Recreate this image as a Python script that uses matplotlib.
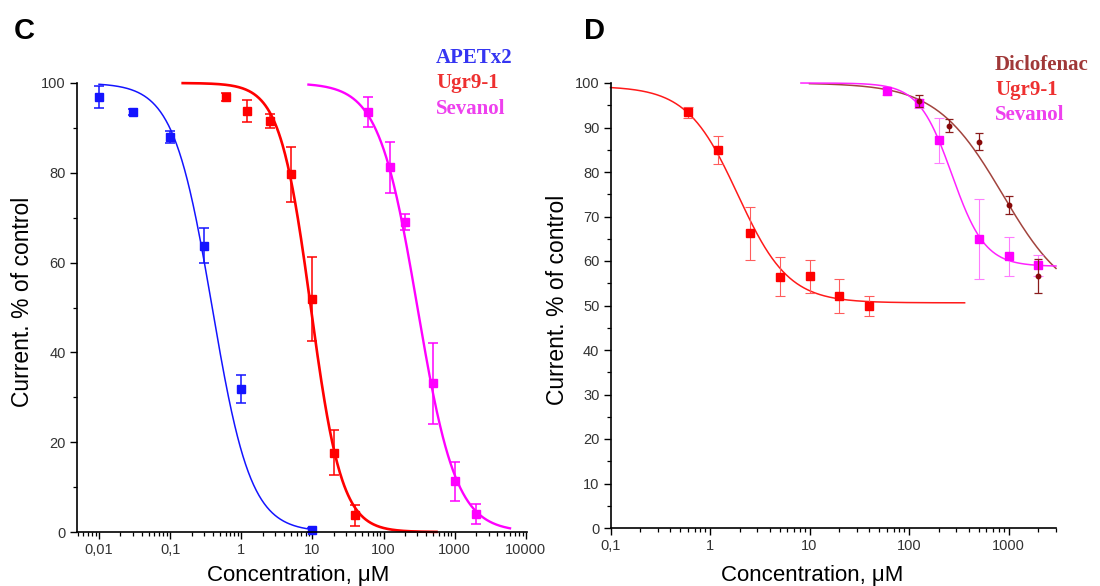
import numpy as np
import matplotlib
matplotlib.use("Agg")
import matplotlib.pyplot as plt
from matplotlib.ticker import FixedLocator, FuncFormatter, MultipleLocator, LogLocator, NullFormatter

plt.rcParams['font.family'] = ['Liberation Sans', 'DejaVu Sans']

# ---------------- Panel C data ----------------
c_apetx2_x = [0.01, 0.03, 0.1, 0.3, 1, 10]
c_apetx2_y = [96.9, 93.5, 88.0, 63.8, 31.8, 0.45]
c_apetx2_err = [2.5, 0.7, 1.3, 4.0, 3.1, 0.5]

c_ugr_x = [0.6, 1.2, 2.5, 5, 10, 20, 40]
c_ugr_y = [96.9, 93.8, 91.6, 79.7, 51.9, 17.7, 3.7]
c_ugr_err = [0.8, 2.5, 1.6, 6.1, 9.3, 5.0, 2.3]

c_sev_x = [60, 125, 200, 500, 1000, 2000]
c_sev_y = [93.5, 81.2, 69.0, 33.1, 11.3, 4.0]
c_sev_err = [3.3, 5.6, 1.8, 9.0, 4.4, 2.2]

# Hill fit parameters: (IC50, n, top, bottom, x_start, x_end)
c_apetx2_fit = (0.39, 1.6, 100.0, 0.0, 0.01, 10)
c_ugr_fit = (9.5, 2.0, 100.0, 0.0, 0.15, 555)
c_sev_fit = (300.0, 1.6, 100.0, 0.0, 8.8, 6000)

# ---------------- Panel D data ----------------
d_ugr_x = [0.6, 1.2, 2.5, 5, 10, 20, 40]
d_ugr_y = [93.4, 85.0, 66.2, 56.5, 56.6, 52.1, 49.9]
d_ugr_err = [1.2, 3.1, 6.0, 4.3, 3.7, 3.8, 2.2]

d_sev_x = [60, 125, 200, 500, 1000, 2000]
d_sev_y = [98.2, 95.4, 87.1, 65.0, 61.1, 59.0]
d_sev_err = [0.9, 1.0, 5.0, 9.0, 4.4, 2.3]

d_dic_x = [125, 250, 500, 1000, 2000]
d_dic_y = [96.0, 90.4, 86.8, 72.6, 56.6]
d_dic_err = [1.4, 1.5, 1.9, 2.0, 3.8]

d_ugr_fit = (1.9, 1.7, 99.3, 50.6, 0.1, 362)
d_sev_fit = (270.0, 2.6, 100.0, 58.8, 8.2, 3000)
d_dic_fit = (870.0, 1.3, 100.0, 50.0, 10, 3000)

c_xticks = [0.01, 0.1, 1, 10, 100, 1000, 10000]
d_xticks = [0.1, 1, 10, 100, 1000]


def hill_curve(fit):
    ic50, n, top, bottom, x0, x1 = fit
    xs = np.logspace(np.log10(x0), np.log10(x1), 400)
    return xs, bottom + (top - bottom) / (1 + (xs / ic50) ** n)


def comma_fmt(v, pos):
    s = ('%g' % v)
    return s.replace('.', ',')


fig = plt.figure(figsize=(11, 5.86), dpi=100)
W, H = 1100, 586


def px_axes(l, r, t, b):
    return fig.add_axes([l / W, 1 - b / H, (r - l) / W, (b - t) / H])


axC = px_axes(77, 527, 83, 532)
axD = px_axes(610.5, 1056, 83, 528)

tick_color = '#333333'
for ax in (axC, axD):
    ax.set_xscale('log')
    for s in ('top', 'right'):
        ax.spines[s].set_visible(False)
    for s in ('left', 'bottom'):
        ax.spines[s].set_linewidth(1.2)
    ax.tick_params(which='major', direction='out', length=5, width=1.0,
                   labelsize=10.5, labelcolor=tick_color, pad=3)
    ax.tick_params(which='minor', direction='out', length=3, width=0.9)
    ax.xaxis.set_minor_locator(LogLocator(base=10, subs=np.arange(2, 10), numticks=20))
    ax.xaxis.set_minor_formatter(NullFormatter())
    ax.xaxis.set_major_formatter(FuncFormatter(comma_fmt))

# ---- Panel C ----
axC.set_xlim(0.0049, 10400)
axC.set_ylim(0, 100)
axC.xaxis.set_major_locator(FixedLocator(c_xticks))
axC.yaxis.set_major_locator(MultipleLocator(20))
axC.yaxis.set_minor_locator(MultipleLocator(10))

blue = '#1414ff'
red = '#ff0000'
mag = '#ff00ff'

xs, ys = hill_curve(c_apetx2_fit)
axC.plot(xs, ys, color=blue, lw=1.1, clip_on=False)
xs, ys = hill_curve(c_ugr_fit)
axC.plot(xs, ys, color=red, lw=1.9, clip_on=False)
xs, ys = hill_curve(c_sev_fit)
axC.plot(xs, ys, color=mag, lw=1.7, clip_on=False)

axC.errorbar(c_apetx2_x, c_apetx2_y, yerr=c_apetx2_err, fmt='s', color=blue,
             ms=5.5, capsize=3.5, elinewidth=1.1, capthick=1.1, clip_on=False)
axC.errorbar(c_ugr_x, c_ugr_y, yerr=c_ugr_err, fmt='s', color=red,
             ms=6, capsize=3.5, elinewidth=1.1, capthick=1.1, clip_on=False)
axC.errorbar(c_sev_x, c_sev_y, yerr=c_sev_err, fmt='s', color=mag,
             ms=6, capsize=3.5, elinewidth=1.1, capthick=1.1, clip_on=False)

# ---- Panel D ----
axD.set_xlim(0.1, 3000)
axD.set_ylim(0, 100)
axD.xaxis.set_major_locator(FixedLocator(d_xticks))
axD.yaxis.set_major_locator(MultipleLocator(10))
axD.yaxis.set_minor_locator(MultipleLocator(5))

d_red = '#ff1a1a'
d_red_err = '#ff5c5c'
d_mag = '#ff22ff'
d_mag_err = '#ff7cff'
brown = '#a2443e'
dic_dark = '#870808'

xs, ys = hill_curve(d_ugr_fit)
axD.plot(xs, ys, color=d_red, lw=1.1, clip_on=False)
xs, ys = hill_curve(d_dic_fit)
axD.plot(xs, ys, color=brown, lw=1.1, clip_on=False)
xs, ys = hill_curve(d_sev_fit)
axD.plot(xs, ys, color=d_mag, lw=1.1, clip_on=False)

axD.errorbar(d_ugr_x, d_ugr_y, yerr=d_ugr_err, fmt='none', ecolor=d_red_err,
             capsize=3.5, elinewidth=0.8, capthick=0.8, clip_on=False)
axD.plot(d_ugr_x, d_ugr_y, 's', color=red, ms=5.5, clip_on=False)
axD.errorbar(d_sev_x, d_sev_y, yerr=d_sev_err, fmt='none', ecolor=d_mag_err,
             capsize=3.5, elinewidth=0.8, capthick=0.8, clip_on=False)
axD.plot(d_sev_x, d_sev_y, 's', color=mag, ms=5.5, clip_on=False)
axD.errorbar(d_dic_x, d_dic_y, yerr=d_dic_err, fmt='o', color=dic_dark, ms=3.2,
             ecolor='#8a1c1c', capsize=3, elinewidth=0.9, capthick=0.9, clip_on=False)

# ---- Texts ----
def ftext(x, y, s, **kw):
    fig.text(x / W, 1 - y / H, s, **kw)

ftext(24, 31, 'C', fontsize=21, fontweight='bold', ha='center', va='center')
ftext(594, 31, 'D', fontsize=21, fontweight='bold', ha='center', va='center')

ylab = 'Current. % of control'
xlab = 'Concentration, μM'
ftext(23, 302, ylab, fontsize=16.5, rotation=90, ha='center', va='center')
ftext(558, 300, ylab, fontsize=16.5, rotation=90, ha='center', va='center')
ftext(298, 575, xlab, fontsize=16, ha='center', va='center')
ftext(812, 575, xlab, fontsize=16, ha='center', va='center')

serif = ['Liberation Serif', 'DejaVu Serif']
leg_kw = dict(fontsize=15, fontweight='bold', family=serif, ha='left', va='center')
ftext(436, 58, 'APETx2', color='#3535f2', **leg_kw)
ftext(436, 83, 'Ugr9-1', color='#ee3030', **leg_kw)
ftext(436, 109, 'Sevanol', color='#ee40ee', **leg_kw)

ftext(995, 65, 'Diclofenac', color='#a03838', **leg_kw)
ftext(995, 90, 'Ugr9-1', color='#ee3030', **leg_kw)
ftext(995, 115, 'Sevanol', color='#ee40ee', **leg_kw)

fig.savefig('out.png', dpi=100)
